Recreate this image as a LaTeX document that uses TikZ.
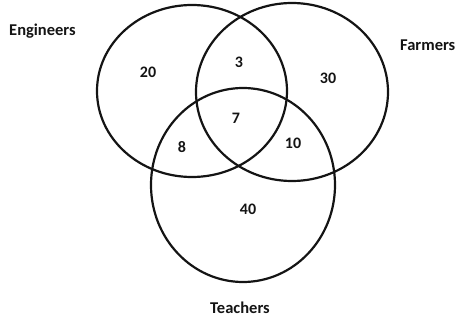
\documentclass[tikz,border=0pt]{standalone}
\usepackage{fontspec}
\setmainfont{Carlito}
\usetikzlibrary{shapes.geometric}
\definecolor{ink}{RGB}{20,20,20}
\tikzset{
  set/.style={ellipse,draw=ink,line width=2.2pt,inner sep=0pt},
  count/.style={font=\fontsize{16}{18}\selectfont\bfseries,text=ink,inner sep=0pt},
  title/.style={font=\fontsize{16.5}{19}\selectfont\bfseries,text=ink,inner sep=0pt},
}
\begin{document}
\begin{tikzpicture}[x=1pt,y=-1pt]
  \useasboundingbox (0,0) rectangle (455,320);
  \clip (0,0) rectangle (455,320);
  % the three sets
  \node[set,minimum width=190pt,minimum height=172pt] (eng) at (192,91) {};
  \node[set,minimum width=192pt,minimum height=178pt] (farm) at (292,92) {};
  \node[set,minimum width=184pt,minimum height=194pt] (teach) at (243,185) {};
  % set names
  \node[title,anchor=west] (engname) at (9,31) {Engineers};
  \node[title,anchor=west] (farmname) at (400,45) {Farmers};
  \node[title] (teachname) at (240,308) {Teachers};
  % region counts
  \node[count] (eonly) at (148,72) {20};
  \node[count] (ef) at (239,62) {3};
  \node[count] (fonly) at (328,78) {30};
  \node[count] (eft) at (236,118) {7};
  \node[count] (et) at (182,147) {8};
  \node[count] (ft) at (293,143) {10};
  \node[count] (tonly) at (248,209) {40};
\end{tikzpicture}
\end{document}
